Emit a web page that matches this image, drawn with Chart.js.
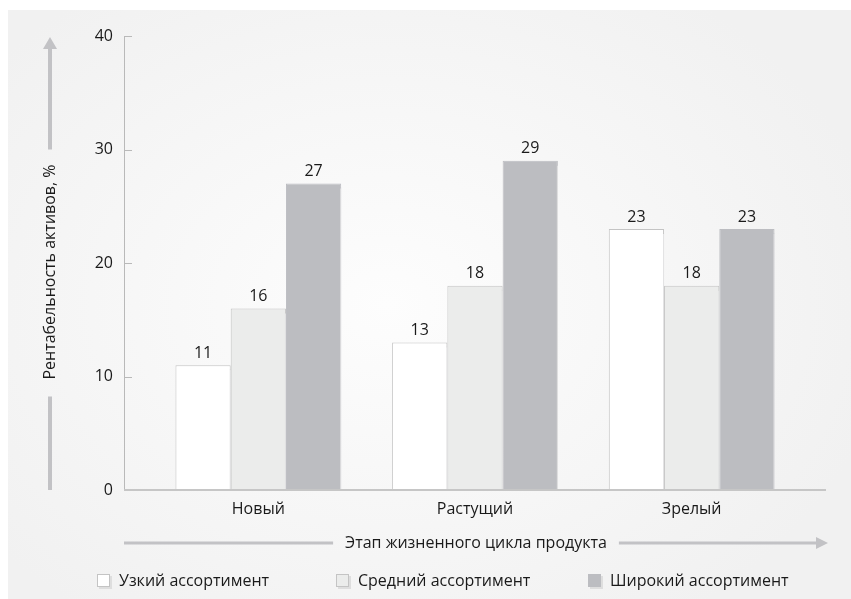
<!DOCTYPE html>
<html>
<head>
<meta charset="utf-8">
<script src="https://cdn.jsdelivr.net/npm/chart.js@4/dist/chart.umd.min.js"></script>
<style>
  body { margin: 0; background: #fff; width: 851px; height: 599px; overflow: hidden; font-family: "Open Sans", sans-serif; }
  #sfondo {
    position: absolute; left: 8px; top: 10px; right: 0; bottom: 0;
    background: radial-gradient(ellipse 60% 65% at 45% 50%, #fdfdfd 0%, #f7f7f7 50%, #f1f1f1 100%);
  }
  #grafico { position: absolute; left: 0; top: 0; }
  #legenda { position: absolute; left: 97px; top: 569px; display: flex; font-size: 16px; color: #1a1a1a; }
  .voce { display: flex; align-items: center; }
  .scatola { width: 13px; height: 13px; margin-right: 9px; box-shadow: 2px 2px 0 #dedede; box-sizing: border-box; }
</style>
</head>
<body>
<div id="sfondo"></div>
<canvas id="grafico" width="851" height="599"></canvas>
<div id="legenda"></div>
<script>
//dati
const fasi = ['Новый', 'Растущий', 'Зрелый'];
const stretto = [11, 13, 23];
const medio = [16, 18, 18];
const ampio = [27, 29, 23];
const nomiSerie = ['Узкий ассортимент', 'Средний ассортимент', 'Широкий ассортимент'];
const titoloY = 'Рентабельность активов, %';
const titoloX = 'Этап жизненного цикла продукта';

const font = '"Open Sans", sans-serif';
const grigioFreccia = '#c2c2c5';

//ombra delle barre
const ombra = {
  id: 'ombra',
  beforeDatasetDraw(chart) {
    const ctx = chart.ctx;
    ctx.save();
    ctx.shadowColor = '#e2e2e3';
    ctx.shadowOffsetX = 5;
    ctx.shadowOffsetY = 4;
  },
  afterDatasetDraw(chart) {
    chart.ctx.restore();
  }
};

//assi, frecce e numeri sopra le barre
const assi = {
  id: 'assi',
  afterDatasetsDraw(chart) {
    const ctx = chart.ctx;
    const area = chart.chartArea;
    const y = chart.scales.y;
    const xAsse = area.left - 26;

    ctx.save();
    // asse y
    ctx.strokeStyle = '#b9b9b9';
    ctx.lineWidth = 1;
    ctx.beginPath();
    ctx.moveTo(xAsse + 0.5, y.getPixelForValue(40));
    ctx.lineTo(xAsse + 0.5, y.getPixelForValue(0));
    y.ticks.forEach(t => {
      const py = Math.round(y.getPixelForValue(t.value)) + 0.5;
      ctx.moveTo(xAsse, py);
      ctx.lineTo(xAsse + 8, py);
    });
    ctx.stroke();

    // asse x
    ctx.strokeStyle = '#c6c6c6';
    ctx.lineWidth = 2;
    ctx.beginPath();
    ctx.moveTo(xAsse, area.bottom);
    ctx.lineTo(area.right + 26, area.bottom);
    ctx.stroke();

    // numeri
    ctx.fillStyle = '#1a1a1a';
    ctx.font = '16px ' + font;
    ctx.textAlign = 'center';
    ctx.textBaseline = 'bottom';
    chart.data.datasets.forEach((ds, i) => {
      chart.getDatasetMeta(i).data.forEach((bar, j) => {
        ctx.fillText(ds.data[j], bar.x, bar.y - 4);
      });
    });

    // freccia verticale
    ctx.strokeStyle = grigioFreccia;
    ctx.fillStyle = grigioFreccia;
    const fx = 50;
    const cy = (area.top + area.bottom) / 2 + 9;
    const wy = ctx.measureText(titoloY).width;
    ctx.lineWidth = 4;
    ctx.beginPath();
    ctx.moveTo(fx, area.top + 12);
    ctx.lineTo(fx, cy - wy / 2 - 15);
    ctx.moveTo(fx, cy + wy / 2 + 17);
    ctx.lineTo(fx, area.bottom);
    ctx.stroke();
    ctx.beginPath();
    ctx.moveTo(fx, area.top + 1);
    ctx.lineTo(fx - 7, area.top + 13);
    ctx.lineTo(fx + 7, area.top + 13);
    ctx.closePath();
    ctx.fill();

    ctx.save();
    ctx.translate(fx, cy);
    ctx.rotate(-Math.PI / 2);
    ctx.fillStyle = '#1a1a1a';
    ctx.textBaseline = 'middle';
    ctx.fillText(titoloY, 0, 0);
    ctx.restore();

    // freccia orizzontale
    const fy = 543;
    const cx = 476;
    const wx = ctx.measureText(titoloX).width;
    ctx.lineWidth = 3;
    ctx.beginPath();
    ctx.moveTo(xAsse, fy);
    ctx.lineTo(cx - wx / 2 - 12, fy);
    ctx.moveTo(cx + wx / 2 + 12, fy);
    ctx.lineTo(area.right + 17, fy);
    ctx.stroke();
    ctx.beginPath();
    ctx.moveTo(area.right + 28, fy);
    ctx.lineTo(area.right + 16, fy - 6);
    ctx.lineTo(area.right + 16, fy + 6);
    ctx.closePath();
    ctx.fill();
    ctx.fillStyle = '#1a1a1a';
    ctx.textBaseline = 'middle';
    ctx.fillText(titoloX, cx, fy);
    ctx.restore();
  }
};

//legenda html
const legendaHtml = {
  id: 'legendaHtml',
  afterUpdate(chart) {
    const box = document.getElementById('legenda');
    box.innerHTML = '';
    const larghezze = [239, 252, 0];
    chart.data.datasets.forEach((ds, i) => {
      const voce = document.createElement('div');
      voce.className = 'voce';
      if (larghezze[i]) voce.style.width = larghezze[i] + 'px';
      const sc = document.createElement('span');
      sc.className = 'scatola';
      sc.style.background = ds.backgroundColor;
      sc.style.border = '1px solid ' + ds.borderColor;
      const t = document.createElement('span');
      t.textContent = ds.label;
      voce.appendChild(sc);
      voce.appendChild(t);
      box.appendChild(voce);
    });
  }
};

const colori = ['#ffffff', '#ebeceb', '#bcbdc1'];
const bordi = ['#c4c4c4', '#c4c4c4', '#bcbdc1'];
const serie = [stretto, medio, ampio];

new Chart(document.getElementById('grafico'), {
  type: 'bar',
  data: {
    labels: fasi,
    datasets: serie.map((d, i) => ({
      label: nomiSerie[i],
      data: d,
      backgroundColor: colori[i],
      borderColor: bordi[i],
      borderWidth: 1,
      categoryPercentage: 0.765,
      barPercentage: 1,
      clip: { left: 10, top: 10, right: 10, bottom: 0 }
    }))
  },
  options: {
    responsive: false,
    animation: false,
    layout: { padding: { left: 0, right: 51, top: 36, bottom: 0 } },
    plugins: {
      legend: { display: false },
      tooltip: { enabled: false }
    },
    scales: {
      x: {
        grid: { display: false, drawTicks: false },
        border: { display: false },
        ticks: { color: '#1a1a1a', font: { family: font, size: 16 }, padding: 10 },
        afterFit(s) { s.height = 109; s.paddingLeft = 0; s.paddingRight = 0; }
      },
      y: {
        min: 0,
        max: 40,
        grid: { display: false, drawTicks: false },
        border: { display: false },
        ticks: { stepSize: 10, color: '#1a1a1a', font: { family: font, size: 16 }, padding: 37 },
        afterFit(s) { s.width = 150; s.paddingTop = 0; s.paddingBottom = 0; }
      }
    }
  },
  plugins: [ombra, assi, legendaHtml]
});
</script>
</body>
</html>
